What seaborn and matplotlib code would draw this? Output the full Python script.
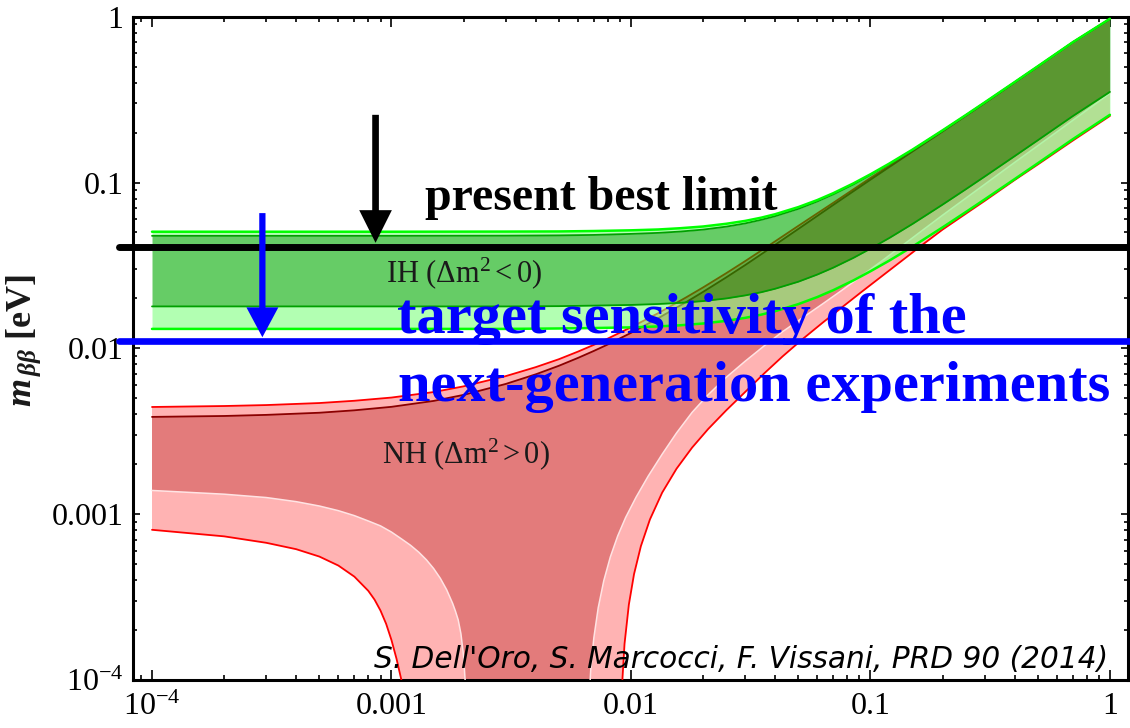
import numpy as np
import matplotlib
matplotlib.use("Agg")
import matplotlib.pyplot as plt
import seaborn as sns

# ---------------- data (eV) ----------------
# Inverted hierarchy band
ih_mlight = [1e-4, 1e-3, 3e-3, 5e-3, 7e-3, 0.01, 0.013, 0.016, 0.02, 0.025, 0.03, 0.035,
             0.04, 0.05, 0.06, 0.07, 0.085, 0.1, 0.12, 0.15, 0.2, 0.25, 0.3, 0.4, 0.5,
             0.7, 1.0]
ih_outer_upper = [0.0505, 0.0505, 0.0506, 0.0507, 0.0510, 0.0515, 0.0521, 0.0530, 0.0543,
                  0.0564, 0.0587, 0.0614, 0.0644, 0.0711, 0.0784, 0.0863, 0.0989, 0.1121,
                  0.1302, 0.1581, 0.2063, 0.2550, 0.3042, 0.4032, 0.5025, 0.7018, 0.972]
ih_inner_upper = [0.0477, 0.0477, 0.0478, 0.0480, 0.0483, 0.0490, 0.0497, 0.0506, 0.0520,
                  0.0542, 0.0567, 0.0596, 0.0627, 0.0694, 0.0769, 0.0849, 0.0975, 0.1110,
                  0.1291, 0.1572, 0.2055, 0.2545, 0.3037, 0.4027, 0.5022, 0.7016, 0.970]
ih_inner_lower = [0.0179, 0.0179, 0.0179, 0.01797, 0.0181, 0.01827, 0.01851, 0.0188,
                  0.01928, 0.0200, 0.02086, 0.0218, 0.02288, 0.02523, 0.02787, 0.03068,
                  0.03516, 0.0399, 0.04633, 0.05633, 0.07356, 0.09104, 0.10868, 0.1442,
                  0.1799, 0.2516, 0.352]
ih_outer_lower = [0.0131, 0.0131, 0.0131, 0.01318, 0.01326, 0.01338, 0.01356, 0.01377,
                  0.01412, 0.01465, 0.01527, 0.01597, 0.01675, 0.01848, 0.02039, 0.02244,
                  0.02571, 0.02916, 0.03384, 0.04111, 0.05363, 0.06631, 0.0791, 0.10482,
                  0.13066, 0.1825, 0.256]

# Normal hierarchy band: upper edges
nh_mlight = [1e-4, 2e-4, 3e-4, 5e-4, 7e-4, 1e-3, 1.5e-3, 2e-3, 3e-3, 4e-3, 5e-3, 6e-3,
             7e-3, 8e-3, 0.01, 0.013, 0.017, 0.02, 0.025, 0.03, 0.037, 0.05, 0.07, 0.1,
             0.15, 0.2, 0.3, 0.5, 0.7, 1.0]
nh_outer_upper = [0.00443, 0.00449, 0.00455, 0.00468, 0.00483, 0.00505, 0.00545, 0.00590,
                  0.00680, 0.00770, 0.00860, 0.00955, 0.01050, 0.01145, 0.0134, 0.0163,
                  0.0203, 0.0233, 0.0284, 0.0336, 0.0410, 0.0548, 0.0755, 0.1065, 0.1555,
                  0.2045, 0.302, 0.500, 0.700, 0.968]
nh_inner_upper = [0.00386, 0.00391, 0.00397, 0.00409, 0.00423, 0.00444, 0.00482, 0.00524,
                  0.00610, 0.00697, 0.00785, 0.00875, 0.00965, 0.01055, 0.0124, 0.0152,
                  0.0190, 0.0219, 0.0268, 0.0318, 0.0390, 0.0525, 0.0733, 0.1040, 0.154,
                  0.203, 0.301, 0.499, 0.699, 0.967]

# Normal hierarchy band: lower edges (funnel), left and right branches
nh_inner_lower_left_m = [1e-4, 2e-4, 3e-4, 4e-4, 5e-4, 6e-4, 7e-4, 8e-4, 9e-4, 1.0e-3,
                         1.1e-3, 1.2e-3, 1.3e-3, 1.4e-3, 1.5e-3, 1.6e-3, 1.7e-3, 1.8e-3,
                         1.85e-3, 1.9e-3, 1.95e-3, 2.0e-3, 2.03e-3, 2.06e-3, 2.08e-3]
nh_inner_lower_left = [0.00139, 0.00132, 0.00126, 0.00119, 0.00112, 0.00105, 0.00098,
                       0.00091, 0.00085, 0.00078, 0.00071, 0.00065, 0.00059, 0.00053,
                       0.00047, 0.00041, 0.00035, 0.00029, 0.00026, 0.00023, 0.00019,
                       0.00014, 0.0001, 0.00006, 0.00003]
nh_outer_lower_left_m = [1e-4, 2e-4, 3e-4, 4e-4, 5e-4, 6e-4, 7e-4, 8e-4, 8.5e-4, 9e-4,
                         9.5e-4, 1.0e-3, 1.05e-3, 1.1e-3, 1.13e-3, 1.16e-3]
nh_outer_lower_left = [0.000805, 0.000735, 0.000672, 0.000615, 0.000555, 0.000490, 0.000420,
                       0.000345, 0.000305, 0.000262, 0.000218, 0.000174, 0.000134, 0.0001,
                       0.00007, 0.00004]
nh_inner_lower_right_m = [0.0064, 0.0066, 0.0068, 0.0070, 0.0073, 0.0077, 0.0082, 0.0088,
                          0.0095, 0.0105, 0.0118, 0.0135, 0.0155, 0.018, 0.021, 0.025, 0.03,
                          0.036, 0.043, 0.052, 0.063, 0.076, 0.092, 0.11, 0.135, 0.165, 0.2,
                          0.25, 0.3, 0.4, 0.5, 0.7, 1.0]
nh_inner_lower_right = [0.00003, 0.0000558, 0.000118, 0.00018, 0.000273, 0.000397, 0.000552,
                        0.000738, 0.000955, 0.001265, 0.001695, 0.0023, 0.00309, 0.00411,
                        0.00525, 0.00669, 0.00837, 0.01035, 0.01262, 0.01527, 0.0185, 0.0224,
                        0.02739, 0.03315, 0.0414, 0.05154, 0.0635, 0.0804, 0.0975, 0.1322,
                        0.1668, 0.2372, 0.3448]
nh_outer_lower_right_m = [0.0087, 0.0089, 0.0091, 0.0094, 0.0098, 0.0103, 0.011, 0.012,
                          0.0135, 0.0155, 0.018, 0.021, 0.025, 0.03, 0.036, 0.043, 0.052,
                          0.063, 0.076, 0.092, 0.11, 0.135, 0.165, 0.2, 0.25, 0.3, 0.4, 0.5,
                          0.7, 1.0]
nh_outer_lower_right = [0.00002, 0.000015, 0.000075, 0.000165, 0.000285, 0.000435, 0.000641,
                        0.000929, 0.001349, 0.00188, 0.00252, 0.00326, 0.00423, 0.00546,
                        0.00706, 0.00895, 0.01135, 0.01424, 0.01766, 0.02195, 0.0268, 0.03368,
                        0.04216, 0.0520, 0.0648, 0.0775, 0.1035, 0.1285, 0.1790, 0.2520]

present_limit = 0.041
target_sensitivity = 0.011

tick_values = [1e-4, 1e-3, 1e-2, 1e-1, 1]
tick_labels = [r'$10^{-4}$', '0.001', '0.01', '0.1', '1']

# ---------------- style ----------------
sns.set_theme(style='ticks')
plt.rcParams['font.family'] = ['Liberation Serif', 'DejaVu Sans']
plt.rcParams['mathtext.fontset'] = 'custom'
plt.rcParams['mathtext.rm'] = 'Liberation Serif'
plt.rcParams['mathtext.it'] = 'Liberation Serif:italic:bold'
plt.rcParams['mathtext.bf'] = 'Liberation Serif:bold'

fig = plt.figure(figsize=(11.3, 7.28), dpi=100)
ax = fig.add_axes([133 / 1130, 1 - 680 / 728, 995 / 1130, 663.3 / 728])
ax.set_facecolor('white')
ax.set_xscale('log')
ax.set_yscale('log')

PINK = '#FFB3B3'
DARKPINK = '#E37B7B'
G_IN = (0.0, 170 / 255, 0.0)
G_OUT = (128 / 255, 1.0, 128 / 255)


def polygon(up_x, up_y, r_x, r_y, l_x, l_y):
    xs = np.concatenate([np.asarray(up_x), np.asarray(r_x)[::-1], np.asarray(l_x)[::-1]])
    ys = np.concatenate([np.asarray(up_y), np.asarray(r_y)[::-1], np.asarray(l_y)[::-1]])
    return xs, ys


# NH band (opaque)
px, py = polygon(nh_mlight, nh_outer_upper, nh_outer_lower_right_m, nh_outer_lower_right,
                 nh_outer_lower_left_m, nh_outer_lower_left)
ax.fill(px, py, color=PINK, lw=0, zorder=1)
px, py = polygon(nh_mlight, nh_inner_upper, nh_inner_lower_right_m, nh_inner_lower_right,
                 nh_inner_lower_left_m, nh_inner_lower_left)
ax.fill(px, py, color=DARKPINK, lw=0, zorder=2)

line_kw = dict(ax=ax, sort=False, estimator=None, legend=False)
sns.lineplot(x=nh_inner_lower_left_m, y=nh_inner_lower_left, color='#FFE4E4', linewidth=1.1, zorder=3, **line_kw)
sns.lineplot(x=nh_inner_lower_right_m, y=nh_inner_lower_right, color='#FFE4E4', linewidth=1.1, zorder=3, **line_kw)
sns.lineplot(x=nh_outer_lower_left_m, y=nh_outer_lower_left, color='#FF0000', linewidth=1.3, zorder=3, **line_kw)
sns.lineplot(x=nh_outer_lower_right_m, y=nh_outer_lower_right, color='#FF0000', linewidth=1.3, zorder=3, **line_kw)
sns.lineplot(x=nh_mlight, y=nh_outer_upper, color='#FF0000', linewidth=1.3, zorder=3, **line_kw)
sns.lineplot(x=nh_mlight, y=nh_inner_upper, color='#8B0000', linewidth=1.3, zorder=3, **line_kw)

# IH band (translucent, on top)
ax.fill_between(ih_mlight, ih_inner_upper, ih_outer_upper, color=G_OUT, alpha=0.6, lw=0, zorder=4)
ax.fill_between(ih_mlight, ih_outer_lower, ih_inner_lower, color=G_OUT, alpha=0.6, lw=0, zorder=4)
ax.fill_between(ih_mlight, ih_inner_lower, ih_inner_upper, color=G_IN, alpha=0.6, lw=0, zorder=4)
sns.lineplot(x=ih_mlight, y=ih_inner_upper, color='#00A000', linewidth=1.3, zorder=5, **line_kw)
sns.lineplot(x=ih_mlight, y=ih_inner_lower, color='#00A000', linewidth=1.3, zorder=5, **line_kw)
sns.lineplot(x=ih_mlight, y=ih_outer_upper, color='#00FF00', linewidth=1.8, zorder=5, **line_kw)
sns.lineplot(x=ih_mlight, y=ih_outer_lower, color='#00FF00', linewidth=1.8, zorder=5, **line_kw)

# limits
ax.axhline(present_limit, xmin=-0.014, xmax=1.003, color='black', lw=5.0, clip_on=False, zorder=6)
ax.axhline(target_sensitivity, xmin=-0.014, xmax=1.003, color='#0000FF', lw=4.8, clip_on=False, zorder=6)

ax.annotate('', xy=(0.000858, 0.0433), xytext=(0.000858, 0.256),
            arrowprops=dict(arrowstyle='simple,head_length=2.35,head_width=2.35,tail_width=0.48',
                            mutation_scale=10, fc='black', ec='none', shrinkA=0, shrinkB=0),
            zorder=7)
ax.annotate('', xy=(0.000289, 0.01167), xytext=(0.000289, 0.0654),
            arrowprops=dict(arrowstyle='simple,head_length=2.15,head_width=2.3,tail_width=0.45',
                            mutation_scale=10, fc='#0000FF', ec='none', shrinkA=0, shrinkB=0),
            zorder=7)

# texts
ax.text(0.00138, 0.0685, 'present best limit', fontsize=34.5, fontweight='bold',
        color='black', ha='left', va='baseline', zorder=8)
ax.text(0.00105, 0.01235, 'target sensitivity of the', fontsize=42, fontweight='bold',
        color='#0000FF', ha='left', va='baseline', zorder=8)
ax.text(0.00106, 0.00481, 'next-generation experiments', fontsize=42, fontweight='bold',
        color='#0000FF', ha='left', va='baseline', zorder=8)
ax.text(0.000948, 0.0249, r'IH ($\Delta$m$^{2}$$\,$<$\,$0)', fontsize=22, color='#1a1a1a',
        ha='left', va='baseline', zorder=8)
ax.text(0.00091, 0.00204, r'NH ($\Delta$m$^{2}$$\,$>$\,$0)', fontsize=22, color='#1a1a1a',
        ha='left', va='baseline', zorder=8)
ax.text(0.98, 0.018, "S. Dell'Oro, S. Marcocci, F. Vissani, PRD 90 (2014)",
        transform=ax.transAxes, fontsize=21.3, family='DejaVu Sans', style='oblique',
        color='black', ha='right', va='baseline', zorder=8)

# axes
ax.set_xlim(8.33e-5, 1.19)
ax.set_ylim(1e-4, 1)
ax.set_xticks(tick_values)
ax.set_xticklabels(tick_labels)
ax.set_yticks(tick_values)
ax.set_yticklabels(tick_labels)
ax.xaxis.set_minor_formatter(matplotlib.ticker.NullFormatter())
ax.yaxis.set_minor_formatter(matplotlib.ticker.NullFormatter())
ax.tick_params(which='both', direction='in', top=True, right=True, colors='black', width=1.2)
ax.tick_params(axis='x', which='major', length=7, pad=9, labelsize=23)
ax.tick_params(axis='x', which='minor', length=3.5)
ax.tick_params(axis='y', which='major', length=5, pad=7, labelsize=23)
ax.tick_params(axis='y', which='minor', length=3)
for s in ax.spines.values():
    s.set_visible(True)
    s.set_linewidth(2.2)
    s.set_color('black')
ax.grid(False)
ax.set_xlabel('')
ax.set_ylabel(r'$m_{\,\beta\beta}$ [eV]', fontsize=26, fontweight='bold', color='#1a1a1a')
ax.yaxis.set_label_coords(-0.0905, 0.511)

fig.savefig('out.png', dpi=100)
